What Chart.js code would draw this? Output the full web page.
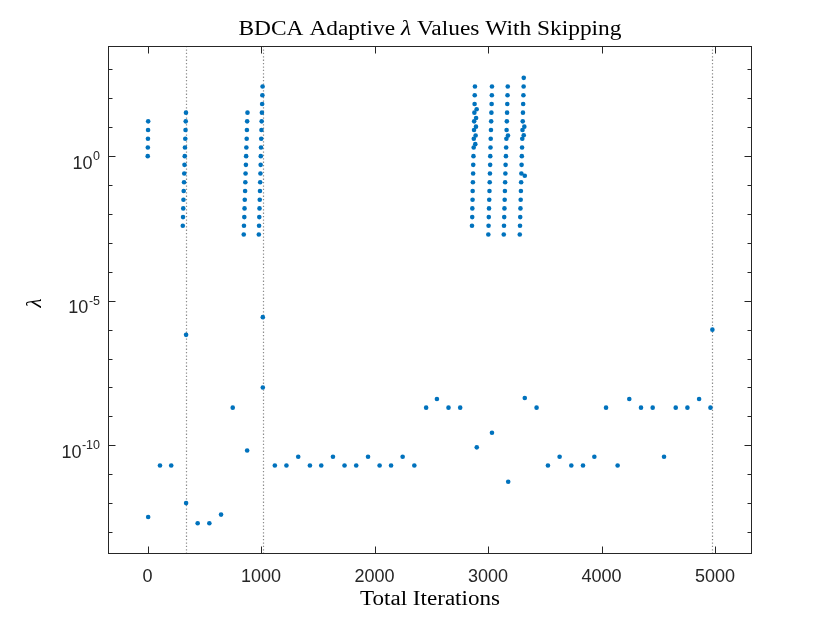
<!DOCTYPE html>
<html>
<head>
<meta charset="utf-8">
<script src="https://cdn.jsdelivr.net/npm/chart.js@4.4.1/dist/chart.umd.min.js"></script>
<style>
  html, body { margin: 0; padding: 0; background: #fff; }
  #wrap { width: 830px; height: 623px; position: relative; }
</style>
</head>
<body>
<div id="wrap"><canvas id="chart"></canvas></div>
<script>
// lambda doubling bursts (one column per burst)
const sweepIters = [
  1, 2, 3, 4, 5,
  310, 312, 314, 316, 318, 321, 323, 325, 327, 329, 332, 334, 336, 338,
  847, 849, 852, 854, 856, 859, 861, 863, 866, 868, 870, 873, 875, 877, 880,
  980, 982, 984, 986, 988, 990, 992, 994, 996, 997, 999, 1001, 1003, 1005, 1007, 1009, 1011, 1013,
  2858, 2860, 2861, 2863, 2864, 2866, 2868, 2869, 2871, 2873, 2874, 2876, 2877, 2879, 2881, 2882, 2884,
  2887, 2890, 2893, 2894, 2899,
  3002, 3004, 3006, 3008, 3010, 3012, 3014, 3016, 3018, 3019, 3021, 3023, 3025, 3027, 3029, 3031, 3033, 3034,
  3138, 3140, 3142, 3144, 3146, 3148, 3150, 3152, 3154, 3157, 3159, 3161, 3163, 3165, 3167, 3169, 3171, 3173,
  3175,
  3279, 3281, 3283, 3285, 3287, 3289, 3291, 3293, 3295, 3297, 3299, 3301, 3303, 3305, 3307, 3309, 3311, 3313, 3314,
  3314, 3319, 3323
];
const sweepLambda = [
  1, 2, 4, 8, 16,
  0.0039, 0.0078, 0.0156, 0.031, 0.0625, 0.125, 0.25, 0.5, 1, 2, 4, 8, 16, 32,
  0.00195, 0.0039, 0.0078, 0.0156, 0.031, 0.0625, 0.125, 0.25, 0.5, 1, 2, 4, 8, 16, 32,
  0.00195, 0.0039, 0.0078, 0.0156, 0.031, 0.0625, 0.125, 0.25, 0.5, 1, 2, 4, 8, 16, 32, 64, 128, 256,
  0.0039, 0.0078, 0.0156, 0.031, 0.0625, 0.125, 0.25, 0.5, 1, 2, 4, 8, 16, 32, 64, 128, 256,
  2.6, 5.2, 10.5, 21, 42,
  0.00195, 0.0039, 0.0078, 0.0156, 0.031, 0.0625, 0.125, 0.25, 0.5, 1, 2, 4, 8, 16, 32, 64, 128, 256,
  0.00195, 0.0039, 0.0078, 0.0156, 0.031, 0.0625, 0.125, 0.25, 0.5, 1, 2, 4, 8, 16, 32, 64, 128, 256,
  5.15,
  0.00195, 0.0039, 0.0078, 0.0156, 0.031, 0.0625, 0.125, 0.25, 0.5, 1, 2, 4, 8, 16, 32, 64, 128, 256, 512,
  5.3, 10.5, 0.21
];
// single adaptive steps
const stepIters = [
  5, 109, 208, 339, 339, 441, 544, 647, 750, 877, 1015, 1015,
  1121, 1223, 1327, 1430, 1530, 1633, 1735, 1838, 1942, 2044, 2145, 2247, 2350,
  2454, 2549, 2651, 2754, 2900, 3034, 3177, 3323, 3427,
  3527, 3630, 3733, 3836, 3936, 4039, 4141, 4244, 4347, 4450, 4550, 4653, 4756, 4859, 4959, 4976
];
const stepLambda = [
  3.3e-13, 2e-11, 2e-11, 6.6e-7, 1e-12, 2e-13, 2e-13, 4e-13, 2e-9, 6.6e-11, 2.7e-6, 1e-8,
  2e-11, 2e-11, 4e-11, 2e-11, 2e-11, 4e-11, 2e-11, 2e-11, 4e-11, 2e-11, 2e-11, 4e-11, 2e-11,
  2e-9, 4e-9, 2e-9, 2e-9, 8.5e-11, 2.7e-10, 5.5e-12, 4.3e-9, 2e-9,
  2e-11, 4e-11, 2e-11, 2e-11, 4e-11, 2e-9, 2e-11, 4e-9, 2e-9, 2e-9, 4e-11, 2e-9, 2e-9, 4e-9, 2e-9, 1e-6
];
// iterations where skipping kicked in (dotted lines)
const skipIters = [339, 1015, 4974];
const xTicks = [0, 1000, 2000, 3000, 4000, 5000];
const yMajorExps = [0, -5, -10];
const yMinorExps = [-13, -12, -11, -9, -8, -7, -6, -4, -3, -2, -1, 1, 2, 3];

const points = sweepIters.map((v, i) => ({ x: v, y: sweepLambda[i] }))
  .concat(stepIters.map((v, i) => ({ x: v, y: stepLambda[i] })));

const AX = '#262626';
const SANS = '"Liberation Sans", Arial, Helvetica, sans-serif';
const SERIF = '"Liberation Serif", "Times New Roman", serif';

// draw text stretched to a target width (LaTeX fonts run wider)
function wideText(ctx, parts, cx, y, width) {
  let total = 0;
  parts.forEach(p => { ctx.font = p.font; total += ctx.measureText(p.t).width; });
  const sx = width / total;
  ctx.save();
  ctx.translate(cx - width / 2, y);
  ctx.scale(sx, 1);
  let x = 0;
  parts.forEach(p => { ctx.font = p.font; ctx.fillText(p.t, x, 0); x += ctx.measureText(p.t).width; });
  ctx.restore();
}

const frame = {
  id: 'frame',
  beforeDatasetsDraw(chart) {
    const { ctx, chartArea: a, scales: { x } } = chart;
    ctx.save();
    ctx.strokeStyle = 'rgba(120,120,120,0.85)';
    ctx.lineWidth = 1.2;
    ctx.setLineDash([1.3, 2.1]);
    skipIters.forEach(v => {
      const px = Math.round(x.getPixelForValue(v)) + 0.5;
      ctx.beginPath(); ctx.moveTo(px, a.top); ctx.lineTo(px, a.bottom); ctx.stroke();
    });
    ctx.restore();
  },
  afterDraw(chart) {
    const { ctx, chartArea: a, scales: { x, y } } = chart;
    ctx.save();
    ctx.strokeStyle = AX;
    ctx.fillStyle = AX;
    ctx.lineWidth = 1;
    const L = a.left + 0.5, R = a.right - 0.5, T = a.top + 0.5, B = a.bottom - 0.5;
    ctx.strokeRect(L, T, R - L, B - T);

    ctx.beginPath();
    xTicks.forEach(v => {
      const px = Math.round(x.getPixelForValue(v)) + 0.5;
      ctx.moveTo(px, B); ctx.lineTo(px, B - 7);
      ctx.moveTo(px, T); ctx.lineTo(px, T + 7);
    });
    yMajorExps.forEach(e => {
      const py = Math.round(y.getPixelForValue(Math.pow(10, e))) + 0.5;
      ctx.moveTo(L, py); ctx.lineTo(L + 7, py);
      ctx.moveTo(R, py); ctx.lineTo(R - 7, py);
    });
    yMinorExps.forEach(e => {
      const py = Math.round(y.getPixelForValue(Math.pow(10, e))) + 0.5;
      ctx.moveTo(L, py); ctx.lineTo(L + 4, py);
      ctx.moveTo(R, py); ctx.lineTo(R - 4, py);
    });
    ctx.stroke();

    // x tick labels
    ctx.font = '18px ' + SANS;
    ctx.textAlign = 'center';
    ctx.textBaseline = 'alphabetic';
    xTicks.forEach(v => ctx.fillText(String(v), x.getPixelForValue(v), 582));

    // y tick labels 10^e
    ctx.textAlign = 'right';
    yMajorExps.forEach(e => {
      const py = y.getPixelForValue(Math.pow(10, e));
      const exp = e === 0 ? '0' : '-' + Math.abs(e);
      ctx.font = '12.5px ' + SANS;
      const ew = ctx.measureText(exp).width;
      ctx.fillText(exp, 100, py + 4);
      ctx.font = '18px ' + SANS;
      ctx.fillText('10', 100 - ew - 0.5, py + 12.5);
    });

    // title and axis labels
    ctx.fillStyle = '#000';
    ctx.textAlign = 'left';
    wideText(ctx, [
      { t: 'BDCA Adaptive ', font: '20px ' + SERIF },
      { t: 'λ', font: 'italic 20px ' + SERIF },
      { t: ' Values With Skipping', font: '20px ' + SERIF }
    ], (a.left + a.right) / 2, 35, 383);
    wideText(ctx, [{ t: 'Total Iterations', font: '20px ' + SERIF }], (a.left + a.right) / 2, 605, 140);

    ctx.save();
    ctx.translate(41, 303);
    ctx.rotate(-Math.PI / 2);
    ctx.textAlign = 'center';
    ctx.font = 'italic 21px ' + SERIF;
    ctx.fillText('λ', 0, 0);
    ctx.restore();
    ctx.restore();
  }
};

new Chart(document.getElementById('chart'), {
  type: 'scatter',
  data: {
    datasets: [{
      label: 'lambda',
      data: points,
      backgroundColor: '#0072BD',
      borderWidth: 0,
      pointRadius: 2.3
    }]
  },
  options: {
    responsive: true,
    maintainAspectRatio: false,
    animation: false,
    events: [],
    layout: { padding: { left: 108, right: 78, top: 46, bottom: 69 } },
    plugins: { legend: { display: false }, tooltip: { enabled: false }, title: { display: false } },
    scales: {
      x: { type: 'linear', min: -349, max: 5325, display: false },
      y: { type: 'logarithmic', min: Math.pow(10, -13.76), max: Math.pow(10, 3.81), display: false }
    }
  },
  plugins: [frame]
});
</script>
</body>
</html>
